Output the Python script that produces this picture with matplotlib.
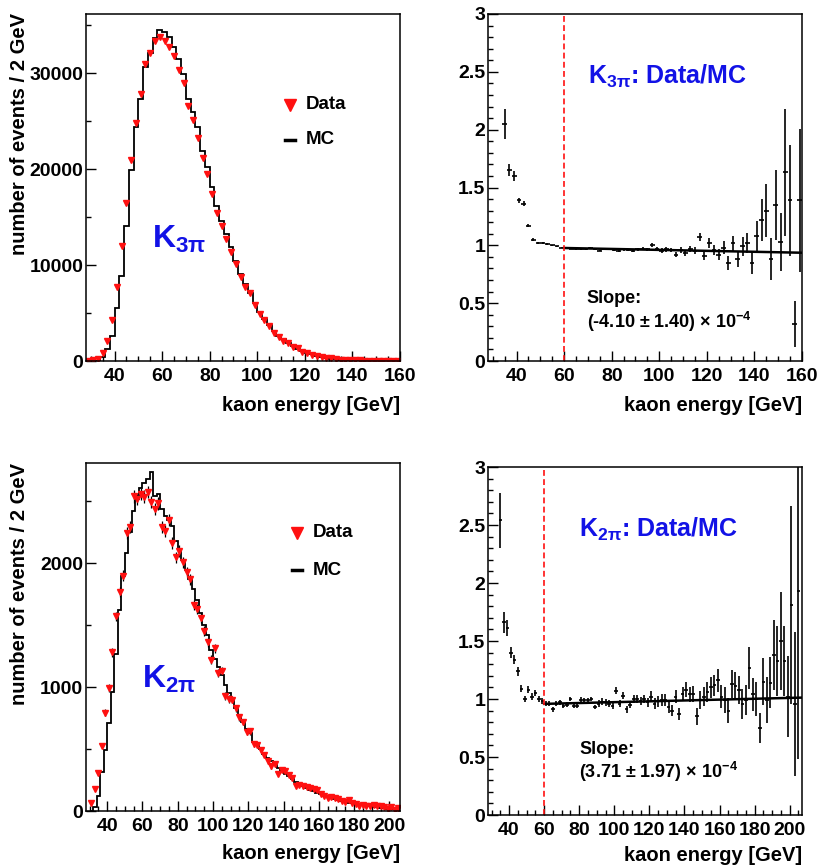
import numpy as np
import matplotlib
matplotlib.use("Agg")
import matplotlib.pyplot as plt
from matplotlib.ticker import MultipleLocator, FormatStrFormatter

plt.rcParams["font.family"] = ["Liberation Sans", "DejaVu Sans"]
plt.rcParams["font.weight"] = "bold"
plt.rcParams["mathtext.fontset"] = "custom"
plt.rcParams["mathtext.rm"] = "Liberation Sans:bold"
plt.rcParams["mathtext.it"] = "Liberation Sans:bold"
plt.rcParams["mathtext.bf"] = "Liberation Sans:bold"
plt.rcParams["mathtext.default"] = "rm"

# ---- K3pi : energy spectrum (2 GeV bins, centres 29..159)
k3_centres = np.arange(29, 160, 2)
k3_mc = [0, 0, 30, 400, 1250, 2640, 5520, 8820, 14030, 19900,
         24340, 27290, 30590, 32050, 33650, 34480, 34240, 33720, 32750, 31460,
         29900, 27290, 25900, 24340, 21910, 20180, 18100, 16180, 14620, 13230,
         11840, 10450, 9060, 8000, 7100, 6000, 5100, 4400, 3750, 3150,
         2650, 2250, 1900, 1580, 1300, 1050, 850, 680, 540, 430,
         330, 260, 200, 150, 115, 85, 65, 48, 36, 27,
         20, 15, 11, 8, 6, 5]
k3_data = [20, 60, 200, 820, 2060, 4220, 7670, 12000, 16420, 20900,
           24830, 27840, 30900, 32050, 33310, 33790, 33380, 32710, 31770, 30360,
           29000, 26610, 25120, 23240, 21140, 19470, 17380, 15450, 14110, 12700,
           11310, 10080, 8790, 7720, 7100, 5820, 4870, 4250, 3600, 2900,
           2540, 2090, 1840, 1510, 1390, 955, 867, 653, 497, 421,
           281, 265, 176, 149, 117, 72, 70, 59, 47, 24,
           27, 15, 18, 11, 2, 7]

# ---- K3pi : Data/MC ratio (centres 35..159)
k3_rc = np.arange(35, 160, 2)
k3_ratio = [2.05, 1.65, 1.60, 1.39, 1.36, 1.17, 1.05, 1.02, 1.02, 1.01,
            1.00, 0.99, 0.98, 0.975, 0.97, 0.97, 0.965, 0.97, 0.975, 0.97,
            0.955, 0.965, 0.965, 0.96, 0.955, 0.965, 0.96, 0.955, 0.965, 0.97,
            0.965, 1.00, 0.97, 0.955, 0.965, 0.96, 0.92, 0.96, 0.93, 0.97,
            0.955, 1.07, 0.91, 1.02, 0.96, 0.92, 0.98, 0.85, 1.02, 0.88,
            0.99, 1.02, 0.85, 1.08, 1.22, 1.30, 0.88, 1.35, 1.03, 1.63,
            1.39, 0.32, 1.39]
k3_rerr = [0.13, 0.05, 0.04, 0.02, 0.02, 0.012, 0.01, 0.006, 0.006, 0.006,
           0.006, 0.006, 0.006, 0.006, 0.006, 0.007, 0.007, 0.007, 0.007, 0.008,
           0.008, 0.008, 0.009, 0.01, 0.01, 0.011, 0.012, 0.012, 0.013, 0.014,
           0.015, 0.016, 0.017, 0.018, 0.02, 0.021, 0.022, 0.024, 0.026, 0.028,
           0.03, 0.035, 0.035, 0.04, 0.045, 0.05, 0.055, 0.06, 0.065, 0.07,
           0.08, 0.09, 0.10, 0.13, 0.18, 0.23, 0.18, 0.30, 0.25, 0.55,
           0.48, 0.20, 0.62]
k3_fit_x = [60, 160]
k3_fit_y = [0.977, 0.936]

# ---- K2pi : energy spectrum (centres 31..205)
k2_centres = np.arange(31, 206, 2)
k2_mc = [0, 35, 121, 318, 493, 709, 957, 1267, 1620, 1900,
         2080, 2250, 2420, 2520, 2610, 2645, 2683, 2740, 2543, 2560,
         2440, 2380, 2350, 2300, 2180, 2110, 2030, 1950, 1870, 1790,
         1700, 1600, 1500, 1420, 1300, 1230, 1160, 1100, 1020, 950,
         900, 830, 770, 720, 660, 630, 560, 540, 500, 460,
         430, 400, 370, 345, 320, 300, 280, 255, 235, 215,
         200, 185, 170, 158, 145, 135, 122, 112, 103, 95,
         86, 80, 73, 67, 61, 56, 50, 45, 41, 37,
         33, 29, 25, 22, 19, 16, 13, 11]
k2_data = [68, 176, 307, 528, 794, 993, 1282, 1571, 1766, 1900,
           2246, 2295, 2541, 2520, 2558, 2539, 2576, 2493, 2441, 2483,
           2294, 2261, 2350, 2162, 2049, 2099, 2010, 1930, 1870, 1665,
           1632, 1560, 1455, 1363, 1222, 1316, 1114, 1133, 928, 903,
           900, 830, 755, 720, 640, 643, 538, 529, 495, 455,
           400, 360, 377, 300, 333, 324, 291, 265, 200, 213,
           204, 196, 187, 177, 168, 138, 121, 101, 116, 105,
           93, 77, 72, 85, 63, 56, 38, 52, 41, 42,
           46, 39, 38, 29, 19, 29, 12, 21]

# ---- K2pi : Data/MC ratio (centres 35..205)
k2_rc = np.arange(35, 206, 2)
k2_ratio = [2.54, 1.66, 1.61, 1.40, 1.34, 1.24, 1.09, 1.00, 1.08, 1.02,
            1.05, 1.00, 0.98, 0.96, 0.96, 0.91, 0.96, 0.97, 0.94, 0.95,
            1.00, 0.94, 0.94, 0.995, 0.99, 0.99, 1.00, 0.93, 0.96, 0.975,
            0.97, 0.96, 0.94, 1.07, 0.96, 1.03, 0.91, 0.95, 1.00, 1.00,
            0.98, 1.00, 0.97, 1.02, 0.96, 0.98, 0.99, 0.99, 0.93, 0.90,
            1.02, 0.87, 1.04, 1.08, 1.04, 1.04, 0.85, 0.99, 1.02, 1.06,
            1.10, 1.12, 1.16, 1.02, 0.99, 0.90, 1.13, 1.11, 1.08, 0.96,
            0.99, 1.27, 1.04, 1.00, 0.75, 1.15, 0.99, 1.14, 1.38, 1.33,
            1.50, 1.33, 1.02, 1.81, 0.96, 1.93]
k2_rerr = [0.24, 0.09, 0.07, 0.05, 0.04, 0.04, 0.03, 0.03, 0.03, 0.03,
           0.025, 0.025, 0.025, 0.02, 0.02, 0.02, 0.02, 0.02, 0.02, 0.02,
           0.02, 0.02, 0.02, 0.02, 0.02, 0.02, 0.02, 0.02, 0.03, 0.03,
           0.03, 0.03, 0.03, 0.03, 0.03, 0.03, 0.03, 0.03, 0.035, 0.035,
           0.035, 0.035, 0.04, 0.045, 0.045, 0.045, 0.05, 0.05, 0.05, 0.05,
           0.055, 0.055, 0.06, 0.065, 0.065, 0.07, 0.07, 0.075, 0.08, 0.085,
           0.09, 0.09, 0.10, 0.10, 0.11, 0.11, 0.12, 0.12, 0.12, 0.13,
           0.13, 0.18, 0.14, 0.15, 0.13, 0.20, 0.20, 0.22, 0.30, 0.30,
           0.42, 0.30, 0.35, 0.85, 0.62, 1.45]
k2_fit_x = [60, 207]
k2_fit_y = [0.958, 1.012]

BLUE = "#1212e6"
RED = "#ff1010"
TICK_FS = 14
LAB_FS = 14.5

fig = plt.figure(figsize=(8.18, 8.67), dpi=100)
ax1 = fig.add_axes([86/818, 1-361/867, 314/818, 347/867])
ax2 = fig.add_axes([488/818, 1-361/867, 314/818, 347/867])
ax3 = fig.add_axes([86/818, 1-811/867, 314/818, 348/867])
ax4 = fig.add_axes([488/818, 1-815/867, 314/818, 348/867])


def style(ax, xmin, xmax, xlab_off):
    ax.set_xlim(xmin, xmax)
    ax.xaxis.set_major_locator(MultipleLocator(20))
    ax.xaxis.set_minor_locator(MultipleLocator(5))
    ax.tick_params(which="both", direction="in", top=False, right=False,
                   labelsize=TICK_FS, width=1)
    ax.tick_params(which="major", length=7)
    ax.tick_params(which="minor", length=3.5)
    ax.tick_params(axis="x", pad=5)
    ax.tick_params(axis="y", pad=2)
    ax.yaxis.set_major_formatter(FormatStrFormatter("%g"))
    for s in ax.spines.values():
        s.set_linewidth(1.1)
    ax.text(1.0, -xlab_off, "kaon energy [GeV]", transform=ax.transAxes,
            ha="right", va="center", fontsize=LAB_FS, fontweight="bold")


def spectrum(ax, centres, mc, data, ymax, major, minor, name, leg, lab):
    edges = np.append(centres - 1, centres[-1] + 1)
    ax.stairs(mc, edges, color="black", lw=1.3, baseline=0)
    data = np.array(data, dtype=float)
    ax.errorbar(centres, data, yerr=np.sqrt(data), fmt="none",
                ecolor="black", elinewidth=0.9)
    ax.plot(centres, data, "v", color=RED, mec=RED, ms=4.5)
    ax.set_ylim(0, ymax)
    ax.yaxis.set_major_locator(MultipleLocator(major))
    ax.yaxis.set_minor_locator(MultipleLocator(minor))
    lx, ly1, ly2 = leg
    ax.plot([lx], [ly1], "v", color=RED, mec=RED, ms=8, transform=ax.transAxes)
    ax.plot([lx - 0.016, lx + 0.016], [ly2, ly2], color="black", lw=2.5,
            transform=ax.transAxes)
    ax.text(lx + 0.05, ly1, "Data", transform=ax.transAxes, ha="left",
            va="center", fontsize=13.5)
    ax.text(lx + 0.05, ly2, "MC", transform=ax.transAxes, ha="left",
            va="center", fontsize=13.5)
    ax.text(lab[0], lab[1], "K$_{" + name + "}$", transform=ax.transAxes,
            ha="left", va="baseline", fontsize=23, color=BLUE)


def ratio_panel(ax, rc, ratio, rerr, fx, fy, name, slope, tpos, spos):
    ax.errorbar(rc, ratio, xerr=1, yerr=rerr, fmt="none", ecolor="black",
                elinewidth=1.2)
    ax.plot(fx, fy, color="black", lw=1.8)
    ax.axvline(60, color=RED, ls=(0, (3.5, 2)), lw=1.2)
    ax.set_ylim(0, 3)
    ax.yaxis.set_major_locator(MultipleLocator(0.5))
    ax.yaxis.set_minor_locator(MultipleLocator(0.1))
    ax.text(tpos[0], tpos[1], "K$_{" + name + "}$: Data/MC",
            transform=ax.transAxes, ha="left", va="baseline", fontsize=18,
            color=BLUE)
    ax.text(spos[0], spos[1], "Slope:", transform=ax.transAxes, ha="left",
            va="baseline", fontsize=13)
    ax.text(spos[0], spos[2], slope + r" × 10$^{-4}$", transform=ax.transAxes,
            ha="left", va="baseline", fontsize=13)


spectrum(ax1, k3_centres, k3_mc, k3_data, 36150, 10000, 5000, r"3\pi",
         (0.65, 0.738, 0.637), (0.21, 0.326))
style(ax1, 28, 160, 0.127)

ratio_panel(ax2, k3_rc, k3_ratio, k3_rerr, k3_fit_x, k3_fit_y, r"3\pi",
            "(-4.10 ± 1.40)", (0.318, 0.80), (0.315, 0.168, 0.095))
style(ax2, 28, 160, 0.127)

spectrum(ax3, k2_centres, k2_mc, k2_data, 2810, 1000, 500, r"2\pi",
         (0.672, 0.80, 0.692), (0.178, 0.353))
style(ax3, 28, 206, 0.121)

ratio_panel(ax4, k2_rc, k2_ratio, k2_rerr, k2_fit_x, k2_fit_y, r"2\pi",
            "(3.71 ± 1.97)", (0.29, 0.80), (0.29, 0.176, 0.106))
style(ax4, 28, 207, 0.115)

fig.text(20/818, 1-13/867, "number of events / 2 GeV", rotation=90,
         ha="center", va="top", fontsize=LAB_FS, fontweight="bold")
fig.text(20/818, 1-463/867, "number of events / 2 GeV", rotation=90,
         ha="center", va="top", fontsize=LAB_FS, fontweight="bold")

fig.savefig("out.png", dpi=100)
